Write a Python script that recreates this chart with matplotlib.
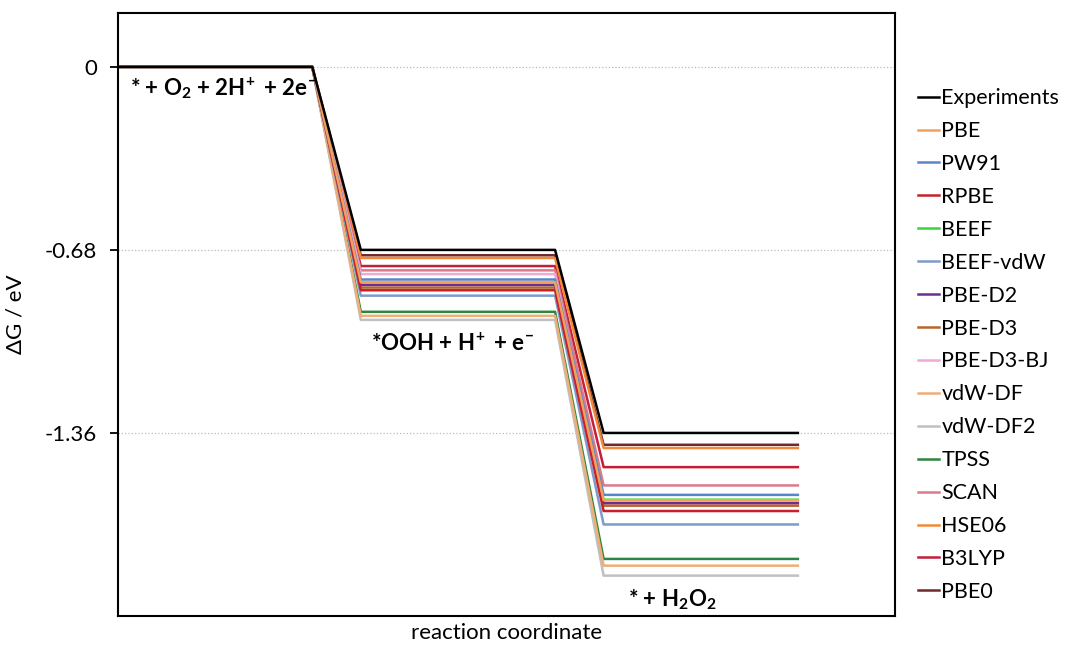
import numpy as np
import matplotlib
matplotlib.use('Agg')
import matplotlib.pyplot as plt

plt.rcParams['font.family'] = ['Lato', 'DejaVu Sans']
plt.rcParams['mathtext.fontset'] = 'custom'
plt.rcParams['mathtext.bf'] = 'Lato:bold'
plt.rcParams['mathtext.rm'] = 'Lato:bold'
plt.rcParams['mathtext.default'] = 'bf'

# reaction steps: * + O2 -> *OOH -> * + H2O2 (each level drawn as a plateau)
step_x = [0, 4, 5, 9, 10, 14]

methods = ['Experiments', 'PBE', 'PW91', 'RPBE', 'BEEF', 'BEEF-vdW', 'PBE-D2',
           'PBE-D3', 'PBE-D3-BJ', 'vdW-DF', 'vdW-DF2', 'TPSS', 'SCAN', 'HSE06',
           'B3LYP', 'PBE0']
# free energy of *OOH + H+ + e- and of * + H2O2 (eV)
dG_ooh = [-0.68, -0.80, -0.79, -0.83, -0.80, -0.85, -0.81,
          -0.82, -0.77, -0.925, -0.94, -0.91, -0.756, -0.71,
          -0.74, -0.70]
dG_h2o2 = [-1.36, -1.61, -1.59, -1.65, -1.608, -1.70, -1.62,
           -1.63, -1.63, -1.853, -1.89, -1.828, -1.555, -1.416,
           -1.487, -1.404]
colors = ['#000000', '#F2A05A', '#5A86C8', '#C8202A', '#3CD23C', '#7E9CCB', '#6A2F8F',
          '#B8652A', '#F0A8D4', '#EDAE78', '#C0C0C0', '#2E8540', '#DC7A8C', '#F08A36',
          '#C41E3A', '#6E2A2A']

fs = 16

fig, ax = plt.subplots(figsize=(10.67, 6.48), dpi=100)
fig.subplots_adjust(left=118/1067, right=895/1067, top=1-13/648, bottom=1-616/648)

# draw in reverse so the experiment line ends up on top
for i in reversed(range(len(methods))):
    y = [0, 0, dG_ooh[i], dG_ooh[i], dG_h2o2[i], dG_h2o2[i]]
    ax.plot(step_x, y, color=colors[i], lw=1.8, label=methods[i])

ax.set_xlim(0, 16)
ax.set_ylim(-2.04, 0.2)
ax.set_yticks([0, -0.68, -1.36])
ax.set_yticklabels(['0', '-0.68', '-1.36'])
ax.set_xticks([])
ax.grid(axis='y', color='#BBBBBB', ls=':', lw=0.9)
ax.tick_params(axis='y', direction='out', length=6, width=1.3, labelsize=fs, pad=9)
for s in ax.spines.values():
    s.set_linewidth(1.5)

ax.set_ylabel('ΔG / eV', fontsize=fs, labelpad=14)
ax.set_xlabel('reaction coordinate', fontsize=fs, labelpad=5)

ax.text(0.25, -0.08, r'* + O$_2$ + 2H$^{\!+}$ + 2e$^{\!-}$', fontsize=fs, fontweight='bold', va='center')
ax.text(5.2, -1.03, r'*OOH + H$^{\!+}$ + e$^{\!-}$', fontsize=fs, fontweight='bold', va='center')
ax.text(10.5, -1.98, r'* + H$_2$O$_2$', fontsize=fs, fontweight='bold', va='center')

h, l = ax.get_legend_handles_labels()
ax.legend(h[::-1], l[::-1], loc='center left', bbox_to_anchor=(907/1067, 1-345/648),
          bbox_transform=fig.transFigure, frameon=False, fontsize=15.5, borderpad=0,
          handlelength=1.0, handletextpad=0.1, labelspacing=0.6)

plt.savefig('out.png', dpi=100)
